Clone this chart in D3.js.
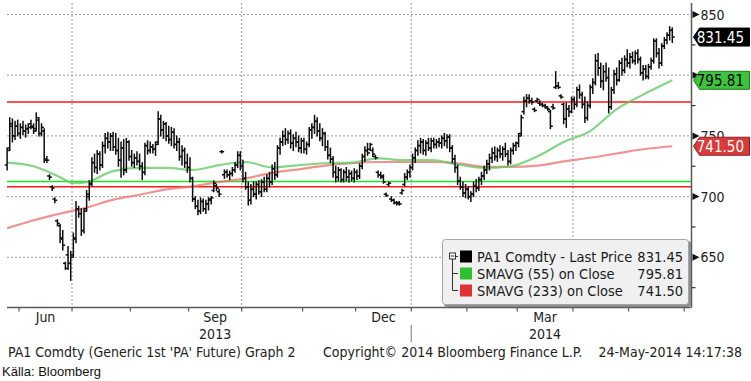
<!DOCTYPE html>
<html><head><meta charset="utf-8">
<script src="https://cdn.jsdelivr.net/npm/d3@7"></script>
<style>body{margin:0;background:#fff}svg{display:block}text{font-family:"DejaVu Sans Condensed","DejaVu Sans",sans-serif;font-stretch:condensed}</style>
</head><body>
<script>
// ---- data ----
const startDate = "2013-05-24", endDate = "2014-05-23";
const holidays = ["2013-05-27","2013-07-04","2013-09-02","2013-11-28","2013-12-25","2014-01-01","2014-01-20","2014-02-17","2014-04-18"];
const open = [726,740,758,750,758,752,757,754,756,760,757,756,763,752,754,731,717,708,698,680,676,665,645,652,645,652,665,690,686,672,690,700,711,728,724,735,726,742,748,745,750,741,738,730,740,722,745,733,728,732,729,725,720,742,738,741,739,745,764,755,760,750,747,753,743,745,733,738,728,724,715,698,692,688,696,690,694,698,705,709,704,737,718,720,718,719,722,726,734,725,715,708,697,706,702,710,704,712,706,715,712,723,718,740,745,750,747,752,744,748,745,740,746,739,743,755,757,762,754,748,752,741,734,731,720,716,722,714,720,716,719,715,720,717,725,733,738,739,738,733,720,718,716,702,710,698,697,695,695,703,710,716,720,724,732,738,742,745,738,744,740,746,743,745,744,748,746,749,740,731,724,713,708,703,706,700,702,709,707,714,717,722,727,732,736,733,738,735,739,735,729,738,742,744,752,770,779,781,779,772,779,777,776,775,773,770,774,790,791,783,776,764,772,770,780,776,788,784,776,765,775,790,794,812,806,795,803,798,774,788,801,796,810,804,813,810,815,812,818,813,802,805,799,807,812,828,818,810,824,829,833,837];
const high = [740,765,764,762,763,760,762,759,760,763,760,769,765,760,756,733,718,709,699,681,677,672,646,659,655,670,696,692,690,690,705,713,732,735,738,737,745,752,753,752,753,752,748,745,747,748,746,738,735,737,735,728,744,746,745,743,745,770,767,762,761,758,757,756,750,748,742,740,735,732,716,700,697,699,698,697,699,700,713,710,706,738,722,722,721,724,728,737,737,730,720,712,710,712,712,713,714,716,718,720,726,728,742,748,754,756,754,755,751,753,750,748,748,745,757,760,767,765,760,756,753,746,740,733,725,724,723,722,724,722,721,723,722,727,735,741,744,744,740,734,721,720,718,703,712,700,698,696,696,706,719,722,726,735,740,746,748,747,746,748,748,748,747,748,750,752,751,751,742,734,726,716,712,710,708,704,712,714,716,720,725,730,735,740,741,740,742,741,744,738,740,744,745,752,767,782,784,784,781,773,781,779,777,776,774,771,776,803,794,784,777,777,775,782,782,790,792,786,782,778,792,797,817,818,810,808,810,806,790,804,806,812,814,816,821,818,819,820,821,815,808,808,809,814,830,830,822,826,831,835,840,839];
const low = [722,738,745,747,750,748,751,749,752,756,752,754,750,750,728,728,714,705,695,676,662,656,640,640,631,650,662,683,668,670,688,697,709,720,719,722,724,736,740,738,738,735,725,716,718,720,730,725,724,726,722,714,718,735,736,736,734,743,750,748,746,744,742,740,738,730,726,724,720,712,696,690,685,686,688,686,689,694,704,705,700,736,715,716,714,717,720,724,722,712,706,693,694,700,698,702,700,704,704,708,710,714,716,735,742,743,744,740,738,741,737,736,736,735,741,748,752,750,746,742,738,731,728,716,712,713,712,712,713,712,713,712,714,715,723,729,734,738,733,731,716,715,711,700,709,696,694,693,693,702,709,714,716,722,728,734,736,735,734,738,737,740,740,741,740,742,740,737,728,720,710,706,700,699,698,696,700,704,705,710,714,719,722,728,730,729,732,730,733,726,727,735,738,741,750,768,774,777,776,770,778,775,774,773,771,756,772,789,789,781,760,757,766,769,772,774,781,773,761,763,773,785,792,800,790,788,795,769,772,785,792,795,800,802,807,806,810,809,810,800,796,797,797,805,810,815,806,808,822,826,829,827];
const close = [738,760,750,758,752,757,754,756,757,758,754,765,752,757,730,730,716,707,697,678,666,660,641,645,650,666,690,686,672,688,702,710,728,724,735,726,742,748,745,750,741,738,730,740,722,745,733,728,732,729,725,720,742,738,741,739,743,764,755,760,750,747,753,743,745,733,738,728,724,715,698,692,688,696,690,694,697,699,711,707,702,737,720,718,719,722,726,734,725,715,708,697,706,702,710,704,712,706,715,712,723,718,740,745,750,747,752,744,748,745,740,746,739,743,755,757,762,754,748,752,741,734,731,720,716,722,714,720,716,719,715,720,717,725,733,738,736,743,735,732,718,717,712,701,711,697,695,694,694,705,716,720,724,732,738,742,745,738,744,740,746,743,745,744,748,746,749,740,731,724,713,708,703,706,700,702,709,707,714,717,722,727,732,736,733,738,735,739,735,729,738,742,744,750,765,779,781,779,778,771,780,776,775,774,772,758,773,791,790,782,764,772,770,780,776,788,784,776,765,775,790,794,812,806,795,803,798,774,788,801,796,810,804,813,810,815,812,818,813,802,805,799,807,812,828,818,810,824,829,833,837,831.45];
const smaIdx = [0,10,20,25,30,40,50,60,70,80,90,100,110,120,130,140,150,160,170,180,190,200,210,220,230,240,251];
const sma55 = [728,725,716,711,712,721,723.6,723.6,722,726,728.5,724,726,727.5,728,731.5,730,730,726.5,723.6,725,733,745,754,772,784,795.81];
const sma233 = [674,680.5,686,688.5,691,697.5,701.5,706,708.5,712,715,719.5,722.5,725.5,727.5,728.5,728.5,728.5,727.5,724.6,724.5,725.5,729,732,735.5,739,741.5];
const hLinesRed = [778, 708.2];
const hLinesGreen = [712.4];
const yTicks = [650, 700, 750, 800, 850];
const yMinor = [625, 675, 725, 775, 825];
const monthNames = ["Jan","Feb","Mar","Apr","May","Jun","Jul","Aug","Sep","Oct","Nov","Dec"];
const labelMonths = [5, 8, 11, 2]; // Jun, Sep, Dec, Mar
const gridMonths = [0, 3, 6, 9];
const legendItems = [
  {name:"PA1 Comdty - Last Price", value:"831.45", color:"#000000"},
  {name:"SMAVG (55) on Close", value:"795.81", color:"#2fc02f"},
  {name:"SMAVG (233) on Close", value:"741.50", color:"#e03434"}
];
const tags = [
  {v:831.45, text:"831.45", fill:"#000000", stroke:"#000", tc:"#ffffff"},
  {v:795.81, text:"795.81", fill:"#3cc43c", stroke:"#1e7a1e", tc:"#000000"},
  {v:741.50, text:"741.50", fill:"#d93b3b", stroke:"#8a1c1c", tc:"#ffffff"}
];

// ---- trading days ----
const fmt = d3.utcFormat("%Y-%m-%d");
const dates = d3.utcDays(new Date(startDate+"T00:00Z"), d3.utcDay.offset(new Date(endDate+"T00:00Z"),1))
  .filter(d => d.getUTCDay()!==0 && d.getUTCDay()!==6 && !holidays.includes(fmt(d)));
const bars = dates.map((d,i)=>({d,i,o:open[i],h:high[i],l:low[i],c:close[i]}));

// ---- scales ----
const W=751,H=381, L=7, R=691.5, T=3, B=307.5;
const x = d3.scaleLinear().domain([0,251]).range([7.1,672.3]);
const y = d3.scaleLinear().domain([609.06, 859.5]).range([307, 3]);

const svg = d3.select("body").append("svg").attr("width",W).attr("height",H);
const defs = svg.append("defs");

// month boundaries
const boundaries = [];
for (let i=1;i<dates.length;i++){
  if (dates[i].getUTCMonth()!==dates[i-1].getUTCMonth()) boundaries.push({i, m:dates[i].getUTCMonth(), yr:dates[i].getUTCFullYear(), x:x(i-0.5)});
}
boundaries.push({i:256, m:5, yr:2014, x:x(255.5)});

// gridlines
const g = svg.append("g");
g.selectAll(".hg").data(yTicks).join("line")
  .attr("x1",L).attr("x2",R).attr("y1",d=>y(d)).attr("y2",d=>y(d))
  .attr("stroke","#9a9a9a").attr("stroke-dasharray","2,2").attr("stroke-width",1);
g.selectAll(".vg").data(boundaries.filter(b=>gridMonths.includes(b.m) && b.x<R)).join("line")
  .attr("x1",d=>d.x).attr("x2",d=>d.x).attr("y1",T).attr("y2",B)
  .attr("stroke","#9a9a9a").attr("stroke-dasharray","2,2").attr("stroke-width",1);

// horizontal lines
g.selectAll(".hr").data(hLinesRed).join("line")
  .attr("x1",L).attr("x2",R).attr("y1",d=>y(d)).attr("y2",d=>y(d))
  .attr("stroke","#ff1a1a").attr("stroke-width",1.5);
g.selectAll(".hgr").data(hLinesGreen).join("line")
  .attr("x1",L).attr("x2",R).attr("y1",d=>y(d)).attr("y2",d=>y(d))
  .attr("stroke","#1ee01e").attr("stroke-width",1.5);

// SMA lines
const line = d3.line().x(d=>x(d[0])).y(d=>y(d[1])).curve(d3.curveMonotoneX);
svg.append("path").attr("d", line(smaIdx.map((k,j)=>[k,sma233[j]])))
  .attr("fill","none").attr("stroke","#ec6f6f").attr("stroke-width",2.2).attr("stroke-opacity",0.75);
svg.append("path").attr("d", line(smaIdx.map((k,j)=>[k,sma55[j]])))
  .attr("fill","none").attr("stroke","#5cc85c").attr("stroke-width",2.2).attr("stroke-opacity",0.75);

// OHLC bars
const bg = svg.append("g").attr("stroke","#0d0d0d").attr("stroke-width",1.5);
bg.selectAll(".hl").data(bars).join("line")
  .attr("x1",d=>x(d.i)).attr("x2",d=>x(d.i)).attr("y1",d=>y(d.h)-0.5).attr("y2",d=>y(d.l)+0.5);
bg.selectAll(".op").data(bars).join("line")
  .attr("x1",d=>x(d.i)-2.4).attr("x2",d=>x(d.i)).attr("y1",d=>y(d.o)).attr("y2",d=>y(d.o));
bg.selectAll(".cl").data(bars).join("line")
  .attr("x1",d=>x(d.i)).attr("x2",d=>x(d.i)+2.4).attr("y1",d=>y(d.c)).attr("y2",d=>y(d.c));

// axes lines
svg.append("line").attr("x1",L).attr("x2",R).attr("y1",B).attr("y2",B).attr("stroke","#5a5a5a").attr("stroke-width",1.5);
svg.append("line").attr("x1",R).attr("x2",R).attr("y1",T).attr("y2",B).attr("stroke","#5a5a5a").attr("stroke-width",1.5);

// x ticks
svg.selectAll(".xt").data(boundaries.filter(b=>b.x<R)).join("line")
  .attr("x1",d=>d.x).attr("x2",d=>d.x).attr("y1",B).attr("y2",B+4)
  .attr("stroke","#5a5a5a").attr("stroke-width",1.2);
// year separator
const yb = boundaries.filter(b=>b.m===0);
svg.selectAll(".ys").data(yb).join("line")
  .attr("x1",d=>d.x).attr("x2",d=>d.x).attr("y1",325).attr("y2",342)
  .attr("stroke","#8a8a8a").attr("stroke-width",1.2);

// month labels
const monthLab = [];
for (let k=0;k<boundaries.length-1;k++){
  const b=boundaries[k], nb=boundaries[k+1];
  if (labelMonths.includes(b.m)) monthLab.push({m:b.m, yr:b.yr, cx:(b.x+nb.x)/2});
}
const t = svg.append("g").attr("fill","#222").style("font-size","14px");
t.selectAll(".ml").data(monthLab).join("text").attr("x",d=>d.cx).attr("y",322).attr("text-anchor","middle").text(d=>monthNames[d.m]);
const yearLab = [{yr:2013, m:8},{yr:2014, m:2}].map(o=>({yr:o.yr, cx: monthLab.find(l=>l.m===o.m).cx}));
t.selectAll(".yl").data(yearLab).join("text").attr("x",d=>d.cx).attr("y",339).attr("text-anchor","middle").text(d=>d.yr);

// y axis ticks
svg.selectAll(".ymi").data(yMinor.filter(v=>y(v)>T && y(v)<B)).join("line")
  .attr("x1",R).attr("x2",R+4).attr("y1",d=>y(d)).attr("y2",d=>y(d)).attr("stroke","#333").attr("stroke-width",1.2);
svg.selectAll(".ytr").data(yTicks).join("path")
  .attr("d",d=>`M${R+1},${y(d)-3.5} L${R+8},${y(d)} L${R+1},${y(d)+3.5} Z`).attr("fill","#111");
// tick labels behind a value tag: fully hidden ones are not drawn (as in the reference),
// partly hidden ones are clipped to the part above the tag
const covering = v => tags.find(tt => Math.abs(y(tt.v)-y(v)) < 14);
const visibleYTicks = yTicks.filter(v => { const c = covering(v); return !c || (y(c.v)-9) - (y(v)-6) > 4; });
visibleYTicks.forEach(v => {
  const c = covering(v);
  if (c) defs.append("clipPath").attr("id","clip"+v).append("rect").attr("x",R).attr("y",0).attr("width",60).attr("height",y(c.v)-9);
});
t.selectAll(".ytl").data(visibleYTicks).join("text").attr("x",R+9).attr("y",d=>y(d)+5)
  .attr("clip-path",d=> covering(d) ? `url(#clip${d})` : null)
  .style("font-size","14px").text(d=>d);

// tags
const tg = svg.append("g");
tags.forEach(tt=>{
  const cy=y(tt.v);
  tg.append("path").attr("d",`M${R+2},${cy} L${R+8},${cy-9} L749.5,${cy-9} L749.5,${cy+9} L${R+8},${cy+9} Z`)
    .attr("fill",tt.fill).attr("stroke",tt.stroke).attr("stroke-width",1);
  tg.append("text").attr("x",744).attr("y",cy+5.5).attr("text-anchor","end").attr("fill",tt.tc).style("font-size","15px").text(tt.text);
});

// legend
const lg = svg.append("g");
lg.append("rect").attr("x",444).attr("y",241).attr("width",247).attr("height",66).attr("rx",3).attr("fill","#8c8c8c");
lg.append("rect").attr("x",442.5).attr("y",239.5).attr("width",246).attr("height",65).attr("rx",3).attr("fill","#f0f0f0").attr("stroke","#a6a6a6");
const rowY = [256.5, 273.5, 290.5];
lg.append("rect").attr("x",449.5).attr("y",rowY[0]-3.5).attr("width",6).attr("height",6).attr("fill","#fff").attr("stroke","#333");
lg.append("line").attr("x1",450.5).attr("x2",454.5).attr("y1",rowY[0]-0.5).attr("y2",rowY[0]-0.5).attr("stroke","#333");
lg.append("line").attr("x1",452.5).attr("x2",452.5).attr("y1",rowY[0]+2.5).attr("y2",rowY[2]).attr("stroke","#333");
[rowY[1], rowY[2]].forEach(ry=>{ lg.append("line").attr("x1",452.5).attr("x2",458).attr("y1",ry).attr("y2",ry).attr("stroke","#333"); });
lg.append("line").attr("x1",455.5).attr("x2",458).attr("y1",rowY[0]).attr("y2",rowY[0]).attr("stroke","#333");
lg.selectAll(".lsq").data(legendItems).join("rect")
  .attr("x",460).attr("y",(d,k)=>rowY[k]-6).attr("width",12).attr("height",12).attr("fill",d=>d.color);
lg.selectAll(".ltx").data(legendItems).join("text")
  .attr("x",477).attr("y",(d,k)=>rowY[k]+5).attr("fill","#1a1a1a").style("font-size","14.5px").text(d=>d.name);
lg.selectAll(".lvl").data(legendItems).join("text")
  .attr("x",683).attr("y",(d,k)=>rowY[k]+5).attr("text-anchor","end").attr("fill","#1a1a1a").style("font-size","14.5px").text(d=>d.value);

// footer
const f = svg.append("g").attr("fill","#222").style("font-size","14px");
f.append("text").attr("x",8).attr("y",357).text("PA1 Comdty (Generic 1st 'PA' Future) Graph 2");
f.append("text").attr("x",323).attr("y",357).text("Copyright\u00A9 2014 Bloomberg Finance L.P.");
f.append("text").attr("x",742).attr("y",357).attr("text-anchor","end").text("24-May-2014 14:17:38");
svg.append("text").attr("x",2).attr("y",376).attr("fill","#111").style("font-family","'Liberation Sans',Arial,sans-serif").style("font-stretch","normal").style("font-size","13px").text("Källa: Bloomberg");
</script>
</body></html>
